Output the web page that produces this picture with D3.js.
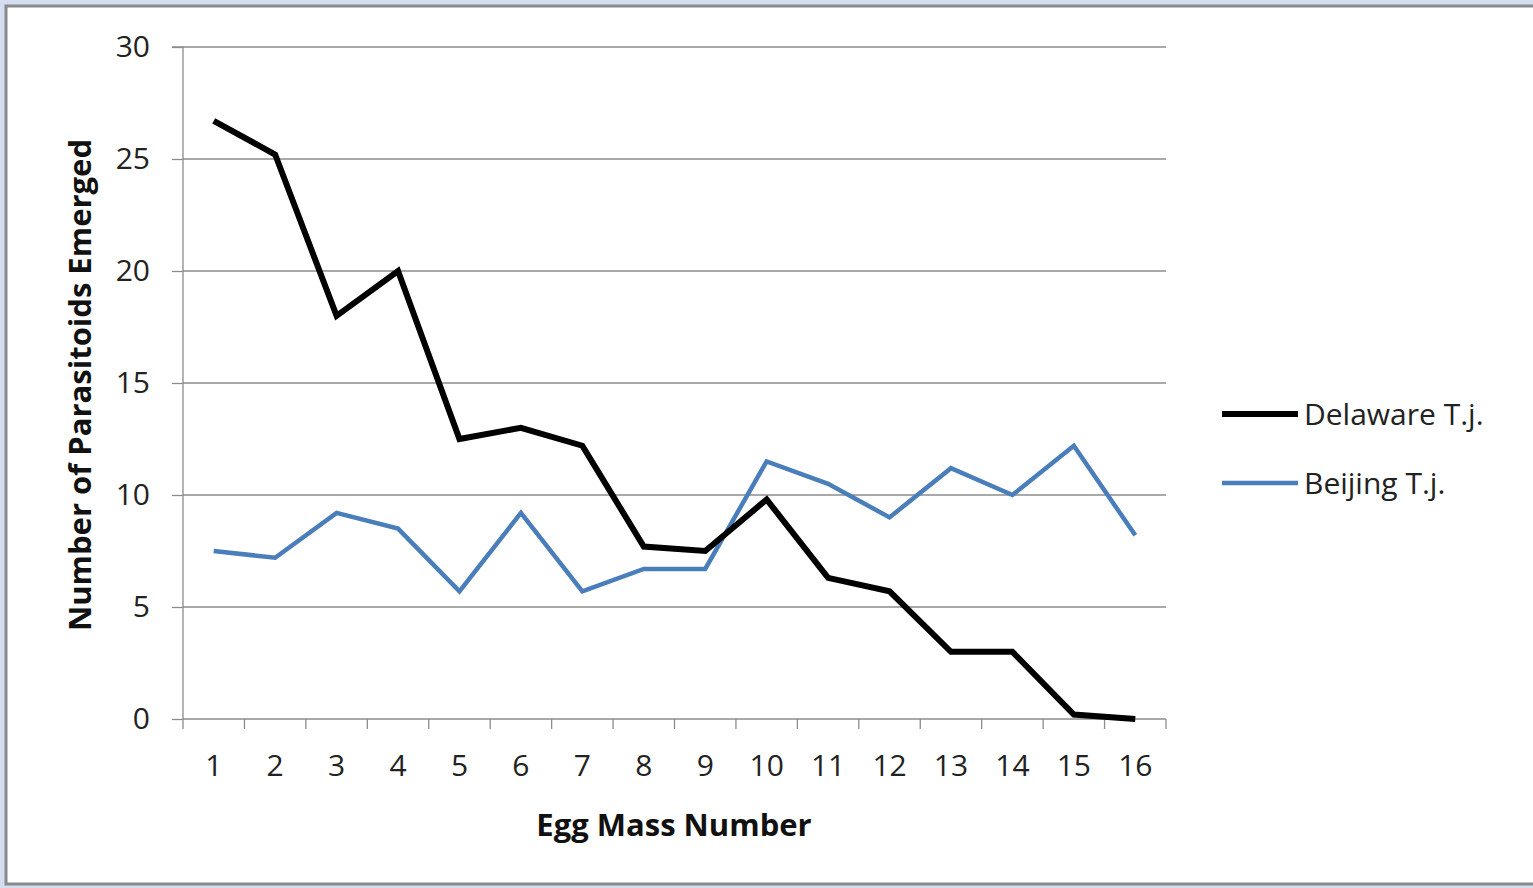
<!DOCTYPE html>
<html><head><meta charset="utf-8">
<script src="https://cdn.jsdelivr.net/npm/d3@7"></script>
<style>body{margin:0;background:#d3dff0;overflow:hidden}</style>
</head><body><svg id="c" width="1533" height="888"></svg>
<script>
const categories = ["1","2","3","4","5","6","7","8","9","10","11","12","13","14","15","16"];
const delaware = [26.7,25.2,18,20,12.5,13,12.2,7.7,7.5,9.8,6.3,5.7,3,3,0.2,0];
const beijing = [7.5,7.2,9.2,8.5,5.7,9.2,5.7,6.7,6.7,11.5,10.5,9,11.2,10,12.2,8.2];
const yTicks = [0,5,10,15,20,25,30];
const seriesNames = ["Delaware T.j.","Beijing T.j."];
const seriesColors = ["#000000","#4a7ebb"];

const svg = d3.select("#c");
svg.append("rect").attr("x",0).attr("y",0).attr("width",1533).attr("height",888).attr("fill","#d3dff0");
svg.append("rect").attr("x",6).attr("y",6).attr("width",1540).attr("height",878).attr("fill","#ffffff").attr("stroke","#8a8a8a").attr("stroke-width",3);

const L=183,R=1166,T=47,B=719;
const x = d3.scaleBand().domain(categories).range([L,R]);
const y = d3.scaleLinear().domain([0,30]).range([B,T]);
const font = "Open Sans, Liberation Sans, sans-serif";

// gridlines
svg.append("g").selectAll("line").data(yTicks.filter(d=>d>0)).join("line")
  .attr("x1",L).attr("x2",R).attr("y1",d=>y(d)).attr("y2",d=>y(d))
  .attr("stroke","#8c8c8c").attr("stroke-width",1.3);

// y axis
const ya = svg.append("g").attr("transform",`translate(${L},0)`)
  .call(d3.axisLeft(y).tickValues(yTicks).tickSize(11).tickPadding(22));
ya.select(".domain").attr("stroke","#8c8c8c").attr("stroke-width",1.3).attr("d",`M-11,${T}H0V${B}`);
ya.selectAll(".tick line").attr("stroke","#8c8c8c").attr("stroke-width",1.3);
ya.selectAll("text").attr("font-family",font).attr("font-size",30).attr("fill","#222");

// x axis
const xa = svg.append("g").attr("transform",`translate(0,${B})`)
  .call(d3.axisBottom(x).tickSize(0).tickPadding(36));
xa.select(".domain").attr("stroke","#8c8c8c").attr("stroke-width",1.3).attr("d",`M${L},0H${R}`);
xa.selectAll("text").attr("font-family",font).attr("font-size",30).attr("fill","#222");
const bounds = d3.range(categories.length+1).map(i=> i<categories.length ? x(categories[i]) : R);
svg.append("g").selectAll("line").data(bounds).join("line")
  .attr("x1",d=>d).attr("x2",d=>d).attr("y1",B).attr("y2",B+10)
  .attr("stroke","#8c8c8c").attr("stroke-width",1.3);

// lines
const cx = c=>x(c)+x.bandwidth()/2;
const line = d3.line().x((d,i)=>cx(categories[i])).y(d=>y(d));
svg.append("path").datum(beijing).attr("d",line).attr("fill","none")
  .attr("stroke",seriesColors[1]).attr("stroke-width",4.5).attr("stroke-linejoin","miter");
svg.append("path").datum(delaware).attr("d",line).attr("fill","none")
  .attr("stroke",seriesColors[0]).attr("stroke-width",6).attr("stroke-linejoin","miter");

// axis titles
svg.append("text").attr("x",674).attr("y",836).attr("text-anchor","middle")
  .attr("font-family",font).attr("font-weight","bold").attr("font-size",31).attr("fill","#111")
  .text("Egg Mass Number");
svg.append("text").attr("transform","translate(91,385) rotate(-90)").attr("text-anchor","middle")
  .attr("font-family",font).attr("font-weight","bold").attr("font-size",31).attr("fill","#111")
  .text("Number of Parasitoids Emerged");

// legend
const lg = svg.append("g");
seriesNames.forEach((n,i)=>{
  const ly = 414 + i*69;
  lg.append("line").attr("x1",1222).attr("x2",1298).attr("y1",ly).attr("y2",ly)
    .attr("stroke",seriesColors[i]).attr("stroke-width",i===0?6:4.5);
  lg.append("text").attr("x",1304).attr("y",ly+11).attr("font-family",font).attr("font-size",30)
    .attr("fill","#222").text(n);
});
</script></body></html>
